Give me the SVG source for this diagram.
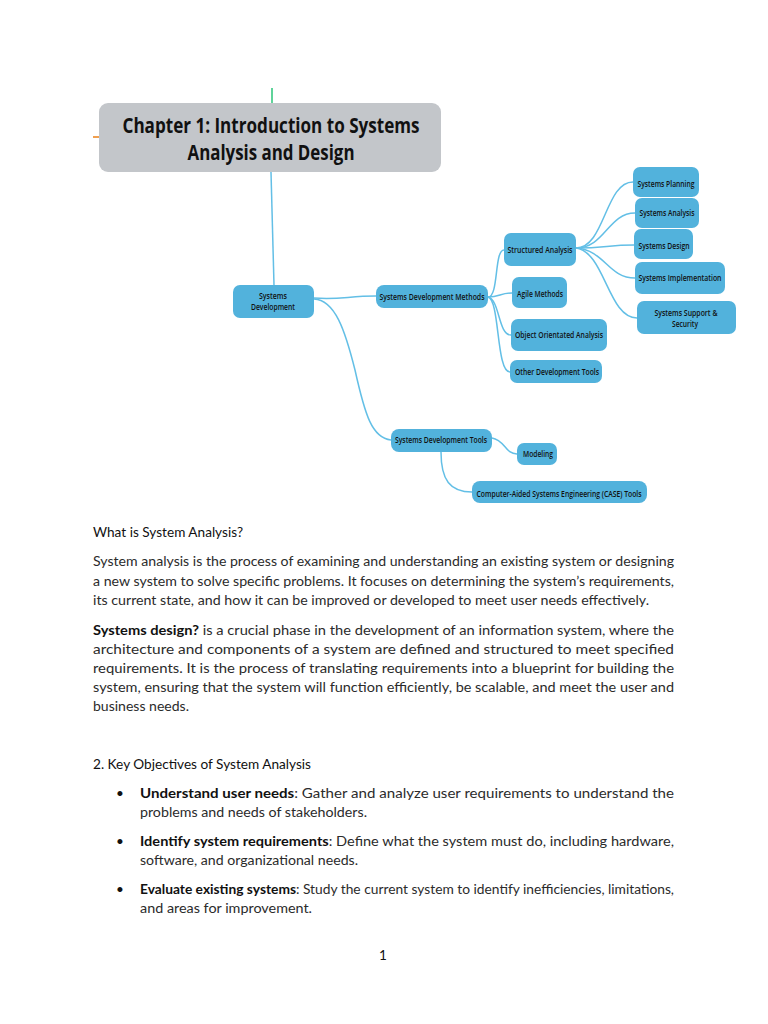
<svg xmlns="http://www.w3.org/2000/svg" width="768" height="1024" viewBox="0 0 768 1024">
<style>
.node rect{fill:#52b2dc;}
.node text{font-family:"Open Sans","Liberation Sans",sans-serif;font-size:9px;font-weight:600;fill:#111;text-anchor:middle;}
.conn path{fill:none;stroke:#63bfe6;stroke-width:1.5;}
.body{font-family:"Lato","Liberation Sans",sans-serif;font-size:13.5px;fill:#2b2b2b;}
.head{font-family:"Lato","Liberation Sans",sans-serif;font-size:13.5px;fill:#111;}
.b{font-weight:bold;fill:#111;}
</style>
<rect width="768" height="1024" fill="#ffffff"/>
<g id="connectors" class="conn">
<path d="M272,88 L272,103" style="stroke:#5fd39a;stroke-width:2"/>
<path d="M93,137 L99,137" style="stroke:#f0a050;stroke-width:2"/>
<path d="M271,172 L274,285"/>
<path d="M314,298 C340,300 348,296 376,296"/>
<path d="M314,299 C335,300 345,330 355,370 C365,415 372,438 391,440"/>
<path d="M488,297 C499,297 494,250 504,250"/>
<path d="M488,297 C500,297 500,293 512,293"/>
<path d="M488,297 C500,300 498,335 511,335"/>
<path d="M488,297 C500,300 496,372 510,372"/>
<path d="M576,248 C605,248 605,182 633,182"/>
<path d="M576,248 C605,248 608,213 635,213"/>
<path d="M576,248 C605,248 608,245 634,245"/>
<path d="M576,248 C605,250 608,278 635,278"/>
<path d="M576,248 C605,252 608,318 637,318"/>
<path d="M492,438 C505,440 505,454 517,454"/>
<path d="M441,452 C441,480 450,492 472,492"/>
</g>
<g id="title">
<rect x="99" y="103" width="342" height="69" rx="9" fill="#c3c6ca"/>
<text x="271" y="133" text-anchor="middle" font-family="Open Sans, Liberation Sans, sans-serif" font-weight="bold" font-size="22" fill="#111" textLength="297" lengthAdjust="spacingAndGlyphs">Chapter 1: Introduction to Systems</text>
<text x="271" y="160" text-anchor="middle" font-family="Open Sans, Liberation Sans, sans-serif" font-weight="bold" font-size="22" fill="#111" textLength="167" lengthAdjust="spacingAndGlyphs">Analysis and Design</text>
</g>
<g id="n-sd" class="node"><rect x="233" y="285" width="81" height="33" rx="7"/><text x="273" y="299" textLength="28" lengthAdjust="spacingAndGlyphs">Systems</text><text x="273" y="310" textLength="44" lengthAdjust="spacingAndGlyphs">Development</text></g>
<g id="n-sdm" class="node"><rect x="376" y="285" width="112" height="23" rx="8"/><text x="432" y="300" textLength="105" lengthAdjust="spacingAndGlyphs">Systems Development Methods</text></g>
<g id="n-sa" class="node"><rect x="504" y="233" width="72" height="33" rx="7"/><text x="540" y="253" textLength="65" lengthAdjust="spacingAndGlyphs">Structured Analysis</text></g>
<g id="n-agile" class="node"><rect x="512" y="277" width="55" height="31" rx="7"/><text x="540" y="297" textLength="46" lengthAdjust="spacingAndGlyphs">Agile Methods</text></g>
<g id="n-ooa" class="node"><rect x="511" y="319" width="96" height="32" rx="7"/><text x="559" y="338" textLength="88" lengthAdjust="spacingAndGlyphs">Object Orientated Analysis</text></g>
<g id="n-odt" class="node"><rect x="510" y="360" width="92" height="23" rx="7"/><text x="557" y="375" textLength="84" lengthAdjust="spacingAndGlyphs">Other Development Tools</text></g>
<g id="n-plan" class="node"><rect x="633" y="167" width="66" height="30" rx="7"/><text x="666" y="187" textLength="57" lengthAdjust="spacingAndGlyphs">Systems Planning</text></g>
<g id="n-anal" class="node"><rect x="635" y="198" width="64" height="30" rx="7"/><text x="667" y="216" textLength="55" lengthAdjust="spacingAndGlyphs">Systems Analysis</text></g>
<g id="n-design" class="node"><rect x="634" y="229" width="59" height="30" rx="7"/><text x="664" y="249" textLength="51" lengthAdjust="spacingAndGlyphs">Systems Design</text></g>
<g id="n-impl" class="node"><rect x="635" y="262" width="90" height="32" rx="7"/><text x="680" y="281" textLength="83" lengthAdjust="spacingAndGlyphs">Systems Implementation</text></g>
<g id="n-supp" class="node"><rect x="637" y="301" width="99" height="33" rx="7"/><text x="686" y="316" textLength="63" lengthAdjust="spacingAndGlyphs">Systems Support &amp;</text><text x="685" y="327" textLength="26" lengthAdjust="spacingAndGlyphs">Security</text></g>
<g id="n-sdt" class="node"><rect x="391" y="429" width="101" height="23" rx="8"/><text x="441" y="443" textLength="92" lengthAdjust="spacingAndGlyphs">Systems Development Tools</text></g>
<g id="n-model" class="node"><rect x="517" y="443" width="40" height="22" rx="7"/><text x="538" y="457" textLength="30" lengthAdjust="spacingAndGlyphs">Modeling</text></g>
<g id="n-case" class="node"><rect x="472" y="481" width="175" height="22" rx="8"/><text x="559" y="497" textLength="165" lengthAdjust="spacingAndGlyphs">Computer-Aided Systems Engineering (CASE) Tools</text></g>
<g id="text">
<text class="head" x="93" y="537" textLength="150" lengthAdjust="spacingAndGlyphs">What is System Analysis?</text>
<text class="body" x="93" y="566" textLength="581" lengthAdjust="spacingAndGlyphs">System analysis is the process of examining and understanding an existing system or designing</text>
<text class="body" x="93" y="585.5" textLength="581" lengthAdjust="spacingAndGlyphs">a new system to solve specific problems. It focuses on determining the system’s requirements,</text>
<text class="body" x="93" y="605" textLength="556" lengthAdjust="spacingAndGlyphs">its current state, and how it can be improved or developed to meet user needs effectively.</text>
<text class="body" x="93" y="635" textLength="581" lengthAdjust="spacingAndGlyphs"><tspan class="b">Systems design?</tspan> is a crucial phase in the development of an information system, where the</text>
<text class="body" x="93" y="654" textLength="581" lengthAdjust="spacingAndGlyphs">architecture and components of a system are defined and structured to meet specified</text>
<text class="body" x="93" y="673" textLength="581" lengthAdjust="spacingAndGlyphs">requirements. It is the process of translating requirements into a blueprint for building the</text>
<text class="body" x="93" y="692" textLength="581" lengthAdjust="spacingAndGlyphs">system, ensuring that the system will function efficiently, be scalable, and meet the user and</text>
<text class="body" x="93" y="711" textLength="96" lengthAdjust="spacingAndGlyphs">business needs.</text>
<text class="head" x="93" y="769" textLength="218" lengthAdjust="spacingAndGlyphs">2. Key Objectives of System Analysis</text>
<text class="head" x="116" y="798">•</text>
<text class="body" x="140" y="798" textLength="534" lengthAdjust="spacingAndGlyphs"><tspan class="b">Understand user needs</tspan>: Gather and analyze user requirements to understand the</text>
<text class="body" x="140" y="817" textLength="227" lengthAdjust="spacingAndGlyphs">problems and needs of stakeholders.</text>
<text class="head" x="116" y="846">•</text>
<text class="body" x="140" y="846" textLength="534" lengthAdjust="spacingAndGlyphs"><tspan class="b">Identify system requirements</tspan>: Define what the system must do, including hardware,</text>
<text class="body" x="140" y="865" textLength="218" lengthAdjust="spacingAndGlyphs">software, and organizational needs.</text>
<text class="head" x="116" y="894">•</text>
<text class="body" x="140" y="894" textLength="534" lengthAdjust="spacingAndGlyphs"><tspan class="b">Evaluate existing systems</tspan>: Study the current system to identify inefficiencies, limitations,</text>
<text class="body" x="140" y="913" textLength="172" lengthAdjust="spacingAndGlyphs">and areas for improvement.</text>
<text class="head" x="383" y="960" text-anchor="middle">1</text>
</g>
</svg>
